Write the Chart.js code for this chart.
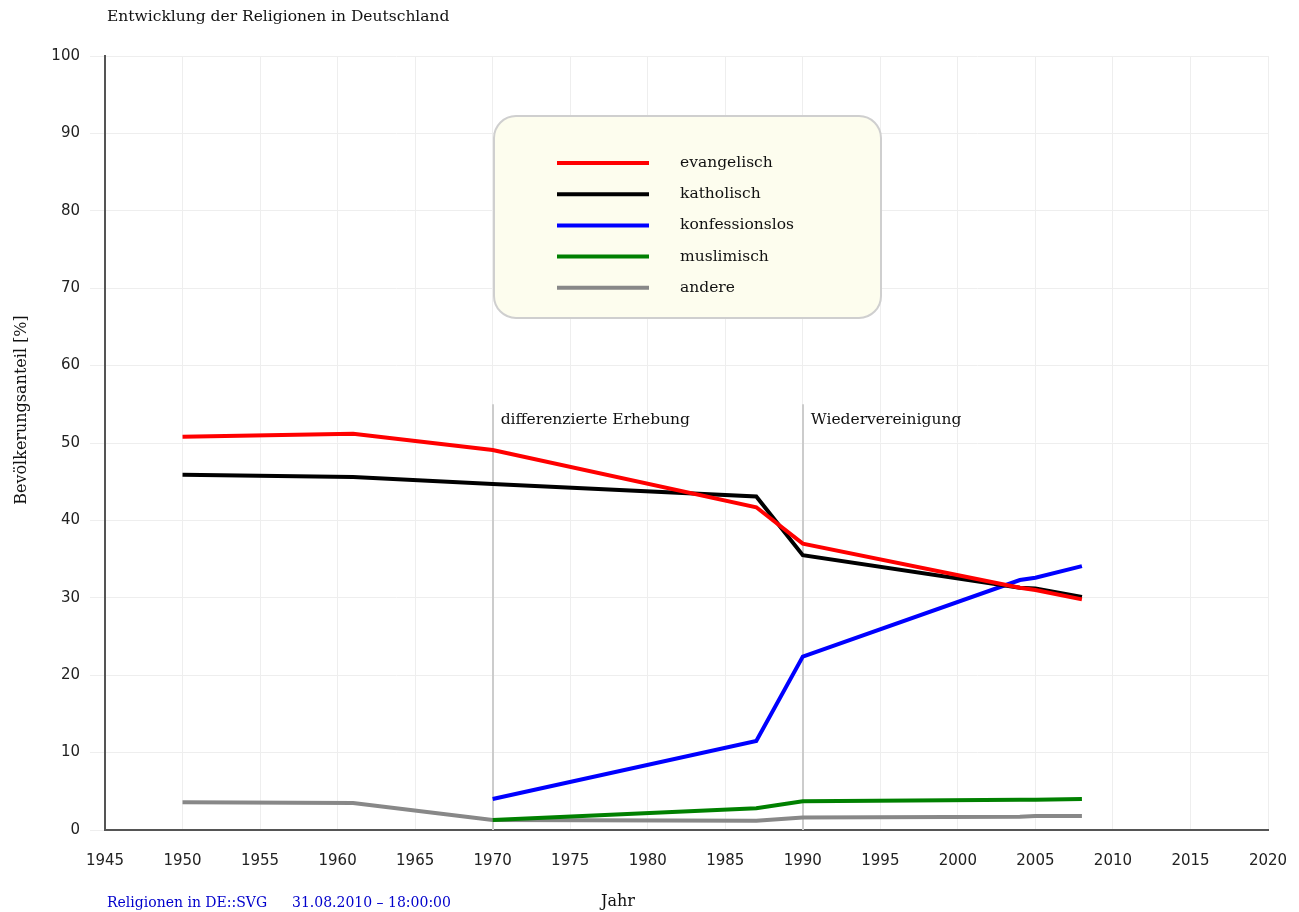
<!DOCTYPE html>
<html>
<head>
<meta charset="UTF-8">
<title>Entwicklung der Religionen in Deutschland</title>
<script src="https://cdn.jsdelivr.net/npm/chart.js"></script>
<style>
    body { margin: 0; background: #ffffff; }
    canvas { display: block; }
</style>
</head>
<body>
<canvas id="chart" width="1299" height="912"></canvas>
<script>
    // data
    const years = [1950, 1961, 1970, 1987, 1990, 2004, 2005, 2008];
    const evangelisch    = [50.8, 51.2, 49.1, 41.7, 37.0, 31.3, 31.0, 29.8];
    const katholisch     = [45.9, 45.6, 44.7, 43.1, 35.5, 31.3, 31.2, 30.1];
    const konfessionslos = [null, null, 4.0, 11.5, 22.4, 32.3, 32.6, 34.1];
    const muslimisch     = [null, null, 1.3, 2.8, 3.7, 3.9, 3.9, 4.0];
    const andere         = [3.6, 3.5, 1.3, 1.2, 1.6, 1.7, 1.8, 1.8];

    const seriesNames = ['evangelisch', 'katholisch', 'konfessionslos', 'muslimisch', 'andere'];
    const seriesColors = ['#ff0000', '#000000', '#0000ff', '#008000', '#888888'];
    const seriesValues = [evangelisch, katholisch, konfessionslos, muslimisch, andere];

    const markerYears = [1970, 1990];
    const markerLabels = ['differenzierte Erhebung', 'Wiedervereinigung'];
    const markerTop = 55;

    const xTicks = [1945, 1950, 1955, 1960, 1965, 1970, 1975, 1980, 1985, 1990, 1995, 2000, 2005, 2010, 2015, 2020];

    const serif = '"DejaVu Serif", serif';

    function points(vals) {
        const out = [];
        vals.forEach((v, i) => { if (v !== null) out.push({x: years[i], y: v}); });
        return out;
    }

    const datasets = seriesNames.map((name, i) => ({
        label: name,
        data: points(seriesValues[i]),
        borderColor: seriesColors[i],
        backgroundColor: seriesColors[i],
        borderWidth: 4,
        pointRadius: 0,
        tension: 0,
        fill: false
    }));

    const extras = {
        id: 'extras',
        beforeDatasetsDraw(chart) {
            const c = chart.ctx, x = chart.scales.x, y = chart.scales.y;
            c.save();
            c.strokeStyle = '#cccccc';
            c.lineWidth = 2;
            markerYears.forEach(yr => {
                const px = Math.round(x.getPixelForValue(yr));
                c.beginPath();
                c.moveTo(px, y.getPixelForValue(markerTop));
                c.lineTo(px, y.getPixelForValue(0));
                c.stroke();
            });
            c.restore();
        },
        afterDatasetsDraw(chart) {
            const c = chart.ctx, x = chart.scales.x, y = chart.scales.y;
            c.save();
            c.font = '15.5px ' + serif;
            c.fillStyle = '#111111';
            c.textBaseline = 'middle';
            c.textAlign = 'left';
            markerYears.forEach((yr, i) => {
                c.fillText(markerLabels[i], x.getPixelForValue(yr) + 8, 420);
            });

            // legend box
            const bx = 494, by = 116, bw = 387, bh = 202, r = 22;
            c.beginPath();
            c.roundRect(bx, by, bw, bh, r);
            c.fillStyle = '#fdfdee';
            c.fill();
            c.strokeStyle = '#cfcfcf';
            c.lineWidth = 2;
            c.stroke();
            seriesNames.forEach((name, i) => {
                const ly = 163 + i * 31.2;
                c.strokeStyle = seriesColors[i];
                c.lineWidth = 4;
                c.beginPath();
                c.moveTo(557, ly);
                c.lineTo(649, ly);
                c.stroke();
                c.fillStyle = '#111111';
                c.fillText(name, 680, ly);
            });

            // titles and footer
            c.fillText('Entwicklung der Religionen in Deutschland', 107, 17);
            c.font = '16px ' + serif;
            c.textAlign = 'center';
            c.fillText('Jahr', 618, 902);
            c.fillStyle = '#0000cc';
            c.font = '14px ' + serif;
            c.textAlign = 'left';
            c.fillText('Religionen in DE::SVG', 107, 903);
            c.fillText('31.08.2010 \u2013 18:00:00', 292, 903);

            c.fillStyle = '#111111';
            c.font = '16px ' + serif;
            c.translate(22, 410);
            c.rotate(-Math.PI / 2);
            c.textAlign = 'center';
            c.fillText('Bev\u00f6lkerungsanteil [%]', 0, 0);
            c.restore();
        }
    };

    new Chart(document.getElementById('chart'), {
        type: 'line',
        data: { datasets: datasets },
        options: {
            responsive: false,
            animation: false,
            layout: { padding: { top: 56, right: 31, left: 0, bottom: 0 } },
            plugins: { legend: { display: false }, tooltip: { enabled: false } },
            scales: {
                x: {
                    type: 'linear',
                    min: 1945,
                    max: 2020,
                    afterBuildTicks: s => { s.ticks = xTicks.map(v => ({value: v})); },
                    afterFit: s => { s.height = 82; s.paddingLeft = 0; s.paddingRight = 0; },
                    grid: { color: '#eeeeee', drawTicks: false },
                    border: { color: '#555555', width: 2 },
                    ticks: {
                        padding: 22,
                        maxRotation: 0,
                        autoSkip: false,
                        color: '#222222',
                        font: { family: '"DejaVu Sans", sans-serif', size: 15 },
                        callback: v => String(v)
                    }
                },
                y: {
                    min: 0,
                    max: 100,
                    afterFit: s => { s.width = 105; s.paddingTop = 0; s.paddingBottom = 0; },
                    grid: { color: '#eeeeee', tickLength: 15 },
                    border: { color: '#555555', width: 2 },
                    ticks: {
                        stepSize: 10,
                        padding: 10,
                        color: '#222222',
                        font: { family: '"DejaVu Sans", sans-serif', size: 15 }
                    }
                }
            }
        },
        plugins: [extras]
    });
</script>
</body>
</html>
